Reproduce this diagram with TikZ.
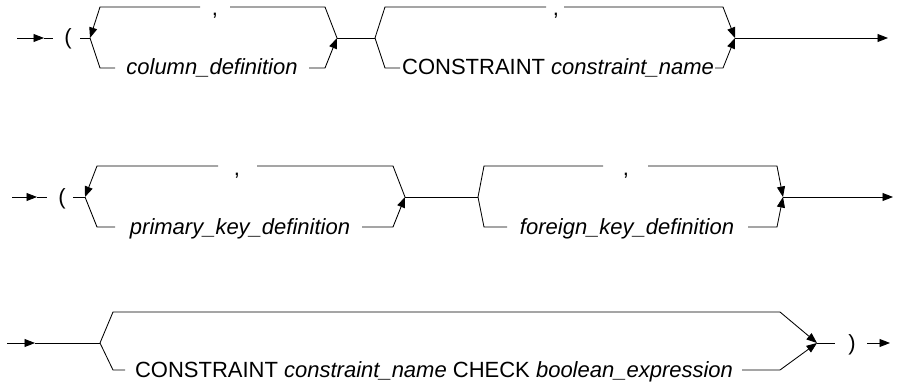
\documentclass[tikz,border=0pt]{standalone}
\usepackage{fontspec}
\setmainfont{Liberation Sans}
\usetikzlibrary{arrows.meta}
\begin{document}
\begin{tikzpicture}[x=1pt,y=-1pt,line width=0.85pt,
  tip/.style={-{Triangle[length=10.5pt,width=8pt]}},
  lbl/.style={font=\fontsize{22}{26}\selectfont,inner sep=0pt,anchor=base},
  comma/.style={lbl,text height=3pt,text depth=4pt}]
\useasboundingbox (0,0) rectangle (899,385);
% ---------- row 1 ----------
\coordinate (r1s) at (17,38);
\coordinate (r1a) at (44,38);
\coordinate (r1b) at (53,38);
\node[lbl] (r1p) at (68,45) {(};
\coordinate (r1c) at (80,38);
\coordinate (L1) at (90,38);
\coordinate (L1t) at (100,7);
\coordinate (L1m) at (200,7);
\node[comma] (L1comma) at (215,16) {,};
\coordinate (L1n) at (230,7);
\coordinate (R1t) at (325,7);
\coordinate (R1) at (337,38);
\coordinate (L1b) at (100,68);
\coordinate (L1c) at (115,68);
\node[lbl] (L1txt) at (212,75) {\itshape column\_definition};
\coordinate (R1c) at (309,68);
\coordinate (R1b) at (325,68);
\coordinate (L2) at (375,38);
\coordinate (L2t) at (385,7);
\coordinate (L2m) at (546,7);
\node[comma] (L2comma) at (556,16) {,};
\coordinate (L2n) at (564,7);
\coordinate (R2t) at (723,7);
\coordinate (R2) at (735,38);
\coordinate (L2b) at (385,68);
\coordinate (L2c) at (400,68);
\node[lbl] (L2txt) at (558,75) {CONSTRAINT \textit{constraint\_name}};
\coordinate (R2c) at (715,68);
\coordinate (R2b) at (723,68);
\coordinate (r1e) at (888,38);
\draw[tip] (r1s) -- (r1a);
\draw (r1a) -- (r1b);
\draw (r1c) -- (L1);
\draw (R1) -- (R1t) -- (L1n);
\draw[tip] (L1m) -- (L1t) -- (L1);
\draw (L1) -- (L1b) -- (L1c);
\draw[tip] (R1c) -- (R1b) -- (R1);
\draw (R1) -- (L2);
\draw (L2) -- (L2t) -- (L2m);
\draw[tip] (L2n) -- (R2t) -- (R2);
\draw (L2) -- (L2b) -- (L2c);
\draw[tip] (R2c) -- (R2b) -- (R2);
\draw[tip] (R2) -- (r1e);
% ---------- row 2 ----------
\coordinate (r2s) at (12,197);
\coordinate (r2a) at (37,197);
\coordinate (r2b) at (47,197);
\node[lbl] (r2p) at (62,204) {(};
\coordinate (r2c) at (73,197);
\coordinate (L3) at (85,197);
\coordinate (L3t) at (97,166);
\coordinate (L3m) at (218,166);
\node[comma] (L3comma) at (237,175) {,};
\coordinate (L3n) at (257,166);
\coordinate (R3t) at (393,166);
\coordinate (R3) at (405,197);
\coordinate (L3b) at (97,227);
\coordinate (L3c) at (115,227);
\node[lbl] (L3txt) at (240,234) {\itshape primary\_key\_definition};
\coordinate (R3c) at (362,227);
\coordinate (R3b) at (393,227);
\coordinate (L4) at (478,197);
\coordinate (L4t) at (484,166);
\coordinate (L4m) at (603,166);
\node[comma] (L4comma) at (626,175) {,};
\coordinate (L4n) at (648,166);
\coordinate (R4t) at (777,166);
\coordinate (R4) at (783,197);
\coordinate (L4b) at (484,227);
\coordinate (L4c) at (507,227);
\node[lbl] (L4txt) at (627,234) {\itshape foreign\_key\_definition};
\coordinate (R4c) at (748,227);
\coordinate (R4b) at (777,227);
\coordinate (r2e) at (893,197);
\draw[tip] (r2s) -- (r2a);
\draw (r2a) -- (r2b);
\draw (r2c) -- (L3);
\draw (R3) -- (R3t) -- (L3n);
\draw[tip] (L3m) -- (L3t) -- (L3);
\draw (L3) -- (L3b) -- (L3c);
\draw[tip] (R3c) -- (R3b) -- (R3);
\draw (R3) -- (L4);
\draw (L4) -- (L4t) -- (L4m);
\draw[tip] (L4n) -- (R4t) -- (R4);
\draw (L4) -- (L4b) -- (L4c);
\draw[tip] (R4c) -- (R4b) -- (R4);
\draw[tip] (R4) -- (r2e);
% ---------- row 3 ----------
\coordinate (r3s) at (7,343);
\coordinate (r3a) at (35,343);
\coordinate (L5) at (100,343);
\coordinate (L5t) at (113,312);
\coordinate (R5t) at (780,312);
\coordinate (R5) at (817,343);
\coordinate (L5b) at (113,370);
\coordinate (L5c) at (125,370);
\node[lbl] (L5txt) at (434,377) {CONSTRAINT \textit{constraint\_name} CHECK \textit{boolean\_expression}};
\coordinate (R5c) at (742,370);
\coordinate (R5b) at (780,370);
\coordinate (r3d) at (835,343);
\node[lbl] (r3p) at (852,350) {)};
\coordinate (r3f) at (867,343);
\coordinate (r3e) at (890,343);
\draw[tip] (r3s) -- (r3a);
\draw (r3a) -- (L5);
\draw[tip] (L5) -- (L5t) -- (R5t) -- (R5);
\draw (L5) -- (L5b) -- (L5c);
\draw[tip] (R5c) -- (R5b) -- (R5);
\draw (R5) -- (r3d);
\draw[tip] (r3f) -- (r3e);
\end{tikzpicture}
\end{document}
